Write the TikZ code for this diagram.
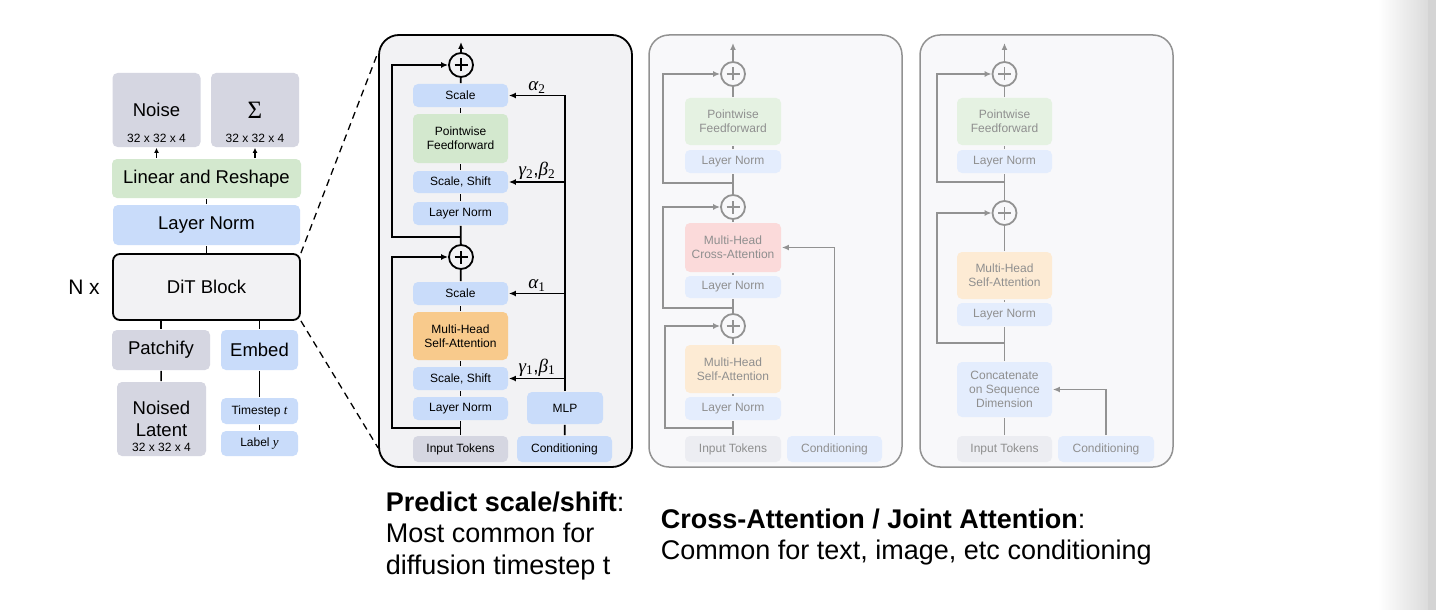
\documentclass[tikz,border=0pt]{standalone}
\usepackage{fontspec}
\setmainfont{Liberation Sans}
\newfontfamily\greekfont{Liberation Serif}
\usetikzlibrary{arrows.meta,calc}

\definecolor{boxgrey}{HTML}{D5D6E1}
\definecolor{boxblue}{HTML}{C9DCFA}
\definecolor{boxgreen}{HTML}{D3E8CE}
\definecolor{boxorange}{HTML}{F8CA8C}
\definecolor{blockfill}{HTML}{F2F2F4}
\definecolor{fadefill}{HTML}{F8F8FA}
\definecolor{fadeline}{HTML}{929292}
\definecolor{fadetext}{HTML}{8F8F8F}
\definecolor{fadegrey}{HTML}{ECEDF2}
\definecolor{fadeblue}{HTML}{E4EDFD}
\definecolor{fadegreen}{HTML}{E5F2E2}
\definecolor{fadeorange}{HTML}{FDEBD4}
\definecolor{fadered}{HTML}{FBDADA}

\newcommand{\coefsym}[2]{{\greekfont\itshape #1}\textsubscript{\greekfont #2}}

\tikzset{
	box/.style={rectangle, rounded corners=5pt, inner sep=0pt, align=center, font=\fontsize{12}{14}\selectfont},
	bigbox/.style={box, font=\fontsize{18.5}{22}\selectfont},
	addnode/.style={circle, draw=#1, line width=1.8pt, minimum size=24pt, inner sep=0pt, path picture={
		\draw[line width=1.8pt, #1] ([xshift=-6.5pt]path picture bounding box.center) -- ([xshift=6.5pt]path picture bounding box.center);
		\draw[line width=1.8pt, #1] ([yshift=-6.5pt]path picture bounding box.center) -- ([yshift=6.5pt]path picture bounding box.center);}},
	addnode/.default=black,
	panel/.style={rectangle, rounded corners=20pt, minimum width=253pt, minimum height=432pt, inner sep=0pt},
	coef/.style={font=\fontsize{19}{21}\selectfont, inner sep=1.5pt},
}

\begin{document}
\begin{tikzpicture}[x=1pt, y=-1pt, line width=1.8pt, >={Latex[length=7pt,width=6pt]}]
	\fill[white] (0,0) rectangle (1436,610);
	\useasboundingbox (0,0) rectangle (1436,610);
	\shade[left color=white, right color=black!14] (1378,0) rectangle (1428,610);
	\fill[black!17] (1428,0) rectangle (1436,610);
	
	% DiT overview
	\begin{scope}[every node/.style={box}]
	\node[bigbox, fill=boxgrey, minimum width=88pt, minimum height=74pt, label={[box, anchor=south, yshift=4pt]south:32 x 32 x 4}] (noise) at (156.5,110) {Noise};
	\node[bigbox, fill=boxgrey, minimum width=88pt, minimum height=74pt, label={[box, anchor=south, yshift=4pt]south:32 x 32 x 4}] (sigma) at (255,110) {\greekfont\fontsize{25}{27}\selectfont Σ};
	\node[bigbox, fill=boxgreen, minimum width=189pt, minimum height=39pt] (linear) at (206.5,178.5) {Linear and Reshape};
	\node[bigbox, fill=boxblue, minimum width=187pt, minimum height=40pt] (final norm) at (206.5,225) {Layer Norm};
	\node[bigbox, fill=blockfill, draw=black, line width=1.8pt, rounded corners=7pt, minimum width=187pt, minimum height=66pt] (dit block) at (206.5,287) {DiT Block};
	\node[font=\fontsize{21}{24}\selectfont] (n times) at (84,287) {N x};
	\node[bigbox, fill=boxgrey, minimum width=98pt, minimum height=40pt] (patchify) at (161,350) {Patchify};
	\node[bigbox, fill=boxblue, minimum width=77pt, minimum height=40pt] (embed) at (259.5,350) {Embed};
	\node[bigbox, fill=boxgrey, minimum width=89pt, minimum height=74pt, label={[box, anchor=south, yshift=4pt]south:32 x 32 x 4}] (latent) at (161.5,419) {Noised\\Latent};
	\node[fill=boxblue, minimum width=77pt, minimum height=26pt] (timestep) at (259.5,411) {Timestep {\greekfont\itshape\fontsize{13}{14}\selectfont t}};
	\node[fill=boxblue, minimum width=77pt, minimum height=25pt] (class label) at (259.5,443.5) {Label {\greekfont\itshape\fontsize{13}{14}\selectfont y}};
	\end{scope}
	
	\begin{scope}[line width=1.5pt]
	\draw[-{Latex[length=5pt,width=5pt]}] (linear.north -| noise) -- (noise);
	\draw[-{Latex[length=5pt,width=5pt]}] (linear.north -| sigma) -- (sigma);
	\path (final norm) edge (linear);
	\path (dit block) edge (final norm);
	\draw (dit block.south -| patchify) -- (patchify);
	\draw (dit block.south -| embed) -- (embed);
	\path (patchify) edge (latent);
	\path (embed) edge (timestep);
	\path (timestep) edge (class label);
	\end{scope}
	
	% adaLN block
	\node[panel, fill=blockfill, draw=black, line width=1.8pt] (block panel) at (505.5,251) {};
	\draw[line width=1.3pt, dash pattern=on 7pt off 5pt] (dit block.north east) -- ([yshift=-18pt]block panel.north west);
	\draw[line width=1.3pt, dash pattern=on 7pt off 5pt] (dit block.south east) -- ([yshift=20pt]block panel.south west);
	
	\begin{scope}[every node/.style={box}]
	\node[fill=boxgrey, minimum width=95pt, minimum height=26pt] (input tokens) at (460.5,449) {Input Tokens};
	\node[fill=boxblue, minimum width=95pt, minimum height=26pt] (conditioning) at (564.5,449) {Conditioning};
	\node[fill=boxblue, minimum width=76pt, minimum height=32pt] (mlp) at (565,408) {MLP};
	\node[fill=boxblue, minimum width=95pt, minimum height=23pt] (norm 1) at (460.5,408.5) {Layer Norm};
	\node[fill=boxblue, minimum width=95pt, minimum height=23pt] (shift 1) at (460.5,378.5) {Scale, Shift};
	\node[fill=boxorange, minimum width=95pt, minimum height=48pt] (attention) at (460.5,336) {Multi-Head\\Self-Attention};
	\node[fill=boxblue, minimum width=95pt, minimum height=23pt] (scale 1) at (460.5,293.5) {Scale};
	\node[addnode] (plus 1) at (461,257) {};
	\node[fill=boxblue, minimum width=95pt, minimum height=23pt] (norm 2) at (460.5,213.5) {Layer Norm};
	\node[fill=boxblue, minimum width=95pt, minimum height=22pt] (shift 2) at (460.5,182) {Scale, Shift};
	\node[fill=boxgreen, minimum width=95pt, minimum height=49pt] (feedforward) at (460.5,138.5) {Pointwise\\Feedforward};
	\node[fill=boxblue, minimum width=95pt, minimum height=23pt] (scale 2) at (460.5,95.5) {Scale};
	\node[addnode] (plus 2) at (461,65) {};
	\end{scope}
	
	\coordinate (skip 1) at (461,428);
	\coordinate (skip 1 top) at (392,257);
	\coordinate (skip 2) at (461,237);
	\coordinate (skip 2 top) at (392,65);
	\coordinate (out 1) at (461,42);
	\path (input tokens) edge (norm 1);
	\path (norm 1) edge (shift 1);
	\path (shift 1) edge (attention);
	\path (attention) edge (scale 1);
	\path (scale 1) edge (plus 1);
	\path (plus 1) edge (norm 2);
	\path (norm 2) edge (shift 2);
	\path (shift 2) edge (feedforward);
	\path (feedforward) edge (scale 2);
	\path (scale 2) edge (plus 2);
	\draw[->] (plus 2) -- (out 1);
	\draw[->] (skip 1) -| (skip 1 top) -- (plus 1);
	\draw[->] (skip 2) -| (skip 2 top) -- (plus 2);
	\path (conditioning) edge (mlp);
	\draw[->] (mlp) |- node[coef, pos=0.75, above] {\coefsym{α}{2}} (scale 2);
	\draw[->] (shift 2.east -| mlp.north) -- node[coef, above] {\coefsym{γ}{2},\coefsym{β}{2}} (shift 2.east);
	\draw[->] (scale 1.east -| mlp.north) -- node[coef, above] {\coefsym{α}{1}} (scale 1.east);
	\draw[->] (shift 1.east -| mlp.north) -- node[coef, above] {\coefsym{γ}{1},\coefsym{β}{1}} (shift 1.east);
	
	% cross-attention block
	\node[panel, fill=fadefill, draw=fadeline, line width=1.5pt] (cross panel) at (775.5,251) {};
	\begin{scope}[every node/.style={box, text=fadetext}]
	\node[fill=fadegrey, minimum width=96pt, minimum height=26pt] (ca tokens) at (733,449) {Input Tokens};
	\node[fill=fadeblue, minimum width=95pt, minimum height=26pt] (ca cond) at (834.5,449) {Conditioning};
	\node[fill=fadeblue, minimum width=96pt, minimum height=23pt] (ca norm 1) at (733,408.5) {Layer Norm};
	\node[fill=fadeorange, minimum width=96pt, minimum height=48pt] (ca self) at (733,369) {Multi-Head\\Self-Attention};
	\node[addnode=fadeline] (ca plus 1) at (733,326) {};
	\node[fill=fadeblue, minimum width=96pt, minimum height=22pt] (ca norm 2) at (733,287) {Layer Norm};
	\node[fill=fadered, minimum width=96pt, minimum height=49pt] (ca cross) at (733,247.5) {Multi-Head\\Cross-Attention};
	\node[addnode=fadeline] (ca plus 2) at (733,207) {};
	\node[fill=fadeblue, minimum width=96pt, minimum height=23pt] (ca norm 3) at (733,161.5) {Layer Norm};
	\node[fill=fadegreen, minimum width=96pt, minimum height=47pt] (ca ff) at (733,121.5) {Pointwise\\Feedforward};
	\node[addnode=fadeline] (ca plus 3) at (733,74) {};
	\end{scope}
	
	\begin{scope}[color=fadeline]
	\coordinate (ca skip 1) at (733,428);
	\coordinate (ca skip 1 top) at (665,326);
	\coordinate (ca skip 2) at (733,308);
	\coordinate (ca skip 2 top) at (663,207);
	\coordinate (ca skip 3) at (733,183);
	\coordinate (ca skip 3 top) at (663,74);
	\coordinate (ca out) at (733,43);
	\path (ca tokens) edge (ca norm 1);
	\path (ca norm 1) edge (ca self);
	\path (ca self) edge (ca plus 1);
	\path (ca plus 1) edge (ca norm 2);
	\path (ca norm 2) edge (ca cross);
	\path (ca cross) edge (ca plus 2);
	\path (ca plus 2) edge (ca norm 3);
	\path (ca norm 3) edge (ca ff);
	\path (ca ff) edge (ca plus 3);
	\draw[->] (ca plus 3) -- (ca out);
	\draw[->] (ca skip 1) -| (ca skip 1 top) -- (ca plus 1);
	\draw[->] (ca skip 2) -| (ca skip 2 top) -- (ca plus 2);
	\draw[->] (ca skip 3) -| (ca skip 3 top) -- (ca plus 3);
	\draw[->] (ca cond) |- (ca cross);
	\end{scope}
	
	% joint attention block
	\node[panel, fill=fadefill, draw=fadeline, line width=1.5pt] (joint panel) at (1046.5,251) {};
	\begin{scope}[every node/.style={box, text=fadetext}]
	\node[fill=fadegrey, minimum width=95pt, minimum height=26pt] (ja tokens) at (1004.5,449) {Input Tokens};
	\node[fill=fadeblue, minimum width=96pt, minimum height=26pt] (ja cond) at (1106,449) {Conditioning};
	\node[fill=fadeblue, minimum width=95pt, minimum height=55pt] (ja concat) at (1004.5,389.5) {Concatenate\\on Sequence\\Dimension};
	\node[fill=fadeblue, minimum width=95pt, minimum height=23pt] (ja norm 1) at (1004.5,314.5) {Layer Norm};
	\node[fill=fadeorange, minimum width=95pt, minimum height=47pt] (ja self) at (1004.5,275.5) {Multi-Head\\Self-Attention};
	\node[addnode=fadeline] (ja plus 1) at (1004.5,213) {};
	\node[fill=fadeblue, minimum width=95pt, minimum height=23pt] (ja norm 2) at (1004.5,161.5) {Layer Norm};
	\node[fill=fadegreen, minimum width=95pt, minimum height=47pt] (ja ff) at (1004.5,121.5) {Pointwise\\Feedforward};
	\node[addnode=fadeline] (ja plus 2) at (1004.5,74) {};
	\end{scope}
	
	\begin{scope}[color=fadeline]
	\coordinate (ja skip 1) at (1004.5,343);
	\coordinate (ja skip 1 top) at (937,213);
	\coordinate (ja skip 2) at (1004.5,182);
	\coordinate (ja skip 2 top) at (937,74);
	\coordinate (ja out) at (1004.5,43);
	\path (ja tokens) edge (ja concat);
	\path (ja concat) edge (ja norm 1);
	\path (ja norm 1) edge (ja self);
	\path (ja self) edge (ja plus 1);
	\path (ja plus 1) edge (ja norm 2);
	\path (ja norm 2) edge (ja ff);
	\path (ja ff) edge (ja plus 2);
	\draw[->] (ja plus 2) -- (ja out);
	\draw[->] (ja skip 1) -| (ja skip 1 top) -- (ja plus 1);
	\draw[->] (ja skip 2) -| (ja skip 2 top) -- (ja plus 2);
	\draw[->] (ja cond) |- (ja concat);
	\end{scope}
	
	% captions
	\node[anchor=north west, align=left, inner sep=0pt, font=\fontsize{27}{31.5}\selectfont] (predict note) at (385,491) {\textbf{Predict scale/shift}:\\Most common for\\diffusion timestep t};
	\node[anchor=north west, align=left, inner sep=0pt, font=\fontsize{27}{31}\selectfont] (cross note) at (660,508) {\textbf{Cross-Attention / Joint Attention}:\\Common for text, image, etc conditioning};
	
\end{tikzpicture}
\end{document}
